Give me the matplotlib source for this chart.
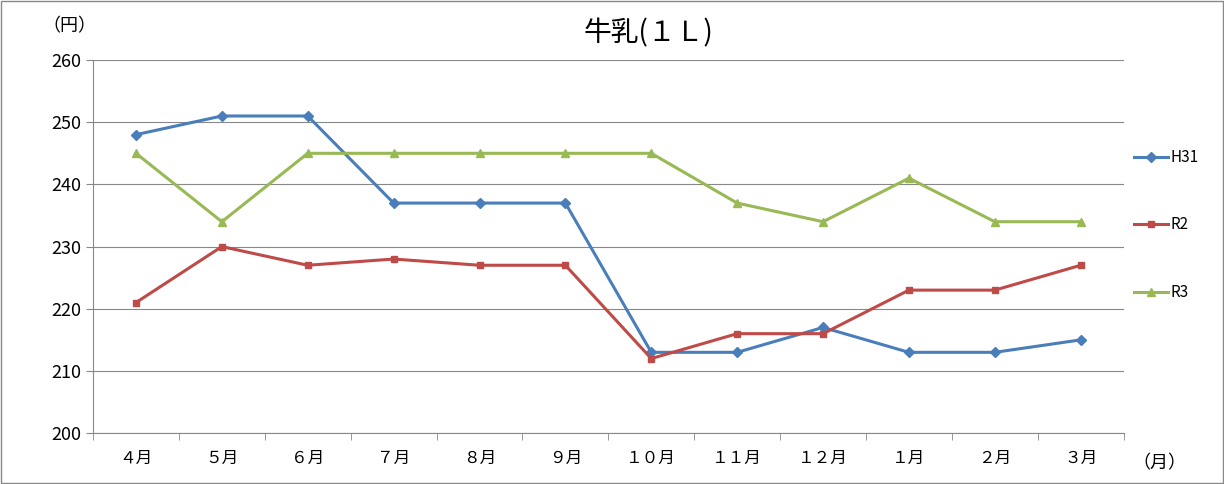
import matplotlib
matplotlib.use("Agg")
import matplotlib.pyplot as plt
from matplotlib.patches import Rectangle

plt.rcParams["font.family"] = "Noto Sans CJK JP"

# データ
months = ["４月", "５月", "６月", "７月", "８月", "９月", "１０月", "１１月", "１２月", "１月", "２月", "３月"]
h31 = [248, 251, 251, 237, 237, 237, 213, 213, 217, 213, 213, 215]
r2 = [221, 230, 227, 228, 227, 227, 212, 216, 216, 223, 223, 227]
r3 = [245, 234, 245, 245, 245, 245, 245, 237, 234, 241, 234, 234]

fig = plt.figure(figsize=(12.24, 4.84), dpi=100)
fig.patches.append(Rectangle((0.001, 0.002), 0.998, 0.996, transform=fig.transFigure,
                             fill=False, edgecolor="#888888", linewidth=1))
ax = fig.add_axes([0.076, 0.105, 0.842, 0.771])

x = range(len(months))
ax.plot(x, h31, color="#4A7EBB", marker="D", markersize=5, linewidth=2.2, label="H31")
ax.plot(x, r2, color="#BE4B48", marker="s", markersize=5, linewidth=2.2, label="R2")
ax.plot(x, r3, color="#98B954", marker="^", markersize=6, linewidth=2.2, label="R3")

ax.set_xlim(-0.5, len(months) - 0.5)
ax.set_ylim(200, 260)
ax.set_yticks(range(200, 261, 10))
ax.set_xticks(x)
ax.set_xticklabels(months)
ax.set_xticks([i - 0.5 for i in range(len(months) + 1)], minor=True)
ax.tick_params(axis="x", which="major", length=0, pad=12, labelsize=12)
ax.tick_params(axis="x", which="minor", length=5, color="#888888")
ax.tick_params(axis="y", length=5, color="#888888", labelsize=13)
ax.grid(axis="y", color="#888888", linewidth=0.8)
for s in ["top", "right"]:
    ax.spines[s].set_visible(False)
for s in ["left", "bottom"]:
    ax.spines[s].set_color("#888888")

fig.text(0.53, 0.915, "牛乳(１Ｌ)", ha="center", fontsize=20)
fig.text(0.035, 0.935, "（円）", fontsize=13)
fig.text(0.925, 0.032, "（月）", fontsize=13)

ax.legend(loc="upper left", bbox_to_anchor=(1.0, 0.79), frameon=False, fontsize=11,
          labelspacing=3.3, handlelength=2.2, handletextpad=0.2, borderaxespad=0.3)

fig.savefig("out.png", dpi=100)
